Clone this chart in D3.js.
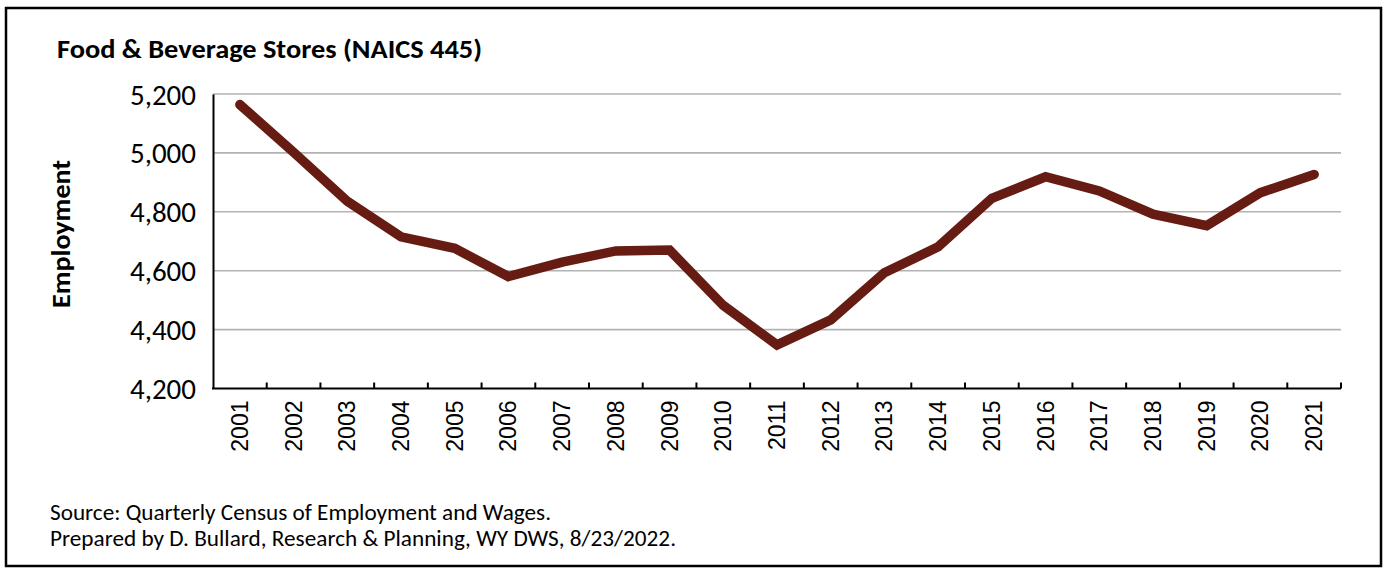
<!DOCTYPE html>
<html>
<head>
<meta charset="utf-8">
<script src="https://cdn.jsdelivr.net/npm/d3@7"></script>
<style>
  html, body { margin: 0; padding: 0; background: #fff; }
  svg { display: block; }
</style>
</head>
<body>
<svg id="chart" width="1387" height="568"></svg>
<script>
// Food & Beverage Stores (NAICS 445) annual employment, Wyoming
const years = ["2001","2002","2003","2004","2005","2006","2007","2008","2009","2010","2011",
               "2012","2013","2014","2015","2016","2017","2018","2019","2020","2021"];
const employment = [5164, 5002, 4836, 4715, 4676, 4580, 4629, 4667, 4670, 4482, 4348,
                    4433, 4593, 4681, 4846, 4919, 4871, 4792, 4753, 4865, 4927];
const yTicks = [4200, 4400, 4600, 4800, 5000, 5200];

const titleText = "Food & Beverage Stores (NAICS 445)";
const yTitle = "Employment";
const notes = ["Source: Quarterly Census of Employment and Wages.",
               "Prepared by D. Bullard, Research & Planning, WY DWS, 8/23/2022."];

const svg = d3.select("#chart");
const sansUI = "Carlito, Calibri, Lato, 'Open Sans', sans-serif";
const sansAxis = "'Liberation Sans', Arial, sans-serif";

// Outer frame
svg.append("rect")
  .attr("x", 6).attr("y", 8).attr("width", 1375).attr("height", 558)
  .attr("fill", "#fff").attr("stroke", "#000").attr("stroke-width", 2.5);

const plot = { left: 213, right: 1341, top: 94, bottom: 388.5 };

const x = d3.scaleBand().domain(years).range([plot.left, plot.right]).padding(0);
const y = d3.scaleLinear().domain([4200, 5200]).range([plot.bottom, plot.top]);

// Horizontal gridlines
svg.append("g")
  .selectAll("line")
  .data(yTicks.filter(d => d !== 4200))
  .join("line")
  .attr("x1", plot.left).attr("x2", plot.right)
  .attr("y1", d => y(d)).attr("y2", d => y(d))
  .attr("stroke", "#b3b3b3").attr("stroke-width", 1.6);

// Y axis
const yAxis = d3.axisLeft(y).tickValues(yTicks).tickSize(0).tickPadding(17)
  .tickFormat(d3.format(","));
const gy = svg.append("g").attr("transform", `translate(${plot.left},0)`).call(yAxis);
gy.select(".domain").attr("stroke", "#000").attr("stroke-width", 2);
gy.selectAll("text")
  .attr("font-family", sansUI).attr("font-size", 28).attr("fill", "#000")
  .attr("dy", "0.36em")
  .attr("textLength", 66).attr("lengthAdjust", "spacingAndGlyphs");

// X axis with ticks between categories, pointing up into the plot
const boundaries = years.slice(1).map(d => x(d)).concat([plot.right]);
const gx = svg.append("g").attr("transform", `translate(0,${plot.bottom})`);
gx.append("line")
  .attr("x1", plot.left - 1).attr("x2", plot.right)
  .attr("stroke", "#000").attr("stroke-width", 2);
gx.selectAll("line.tick")
  .data(boundaries)
  .join("line")
  .attr("class", "tick")
  .attr("x1", d => d).attr("x2", d => d)
  .attr("y1", 0).attr("y2", -6)
  .attr("stroke", "#000").attr("stroke-width", 2);
gx.selectAll("text")
  .data(years)
  .join("text")
  .attr("transform", d => `translate(${x(d) + x.bandwidth() / 2 + 8},12) rotate(-90)`)
  .attr("text-anchor", "end")
  .attr("font-family", sansAxis).attr("font-size", 23).attr("fill", "#000")
  .text(d => d);

// Data line
const line = d3.line()
  .x((d, i) => x(years[i]) + x.bandwidth() / 2)
  .y(d => y(d));
svg.append("path")
  .datum(employment)
  .attr("d", line)
  .attr("fill", "none")
  .attr("stroke", "#661c12")
  .attr("stroke-width", 9.5)
  .attr("stroke-linejoin", "miter")
  .attr("stroke-linecap", "round");

// Title
svg.append("text")
  .attr("x", 57).attr("y", 58)
  .attr("font-family", sansUI).attr("font-weight", "bold").attr("font-size", 27)
  .attr("fill", "#000")
  .attr("textLength", 425).attr("lengthAdjust", "spacingAndGlyphs")
  .text(titleText);

// Y axis title
svg.append("text")
  .attr("transform", `translate(70,234) rotate(-90)`)
  .attr("text-anchor", "middle")
  .attr("font-family", sansUI).attr("font-weight", "bold").attr("font-size", 26)
  .attr("fill", "#000")
  .attr("textLength", 148).attr("lengthAdjust", "spacingAndGlyphs")
  .text(yTitle);

// Source notes
const noteWidths = [501, 626];
svg.append("g").selectAll("text")
  .data(notes)
  .join("text")
  .attr("x", 50).attr("y", (d, i) => 520 + i * 26)
  .attr("font-family", sansUI).attr("font-size", 22).attr("fill", "#000")
  .attr("textLength", (d, i) => noteWidths[i]).attr("lengthAdjust", "spacingAndGlyphs")
  .text(d => d);
</script>
</body>
</html>
